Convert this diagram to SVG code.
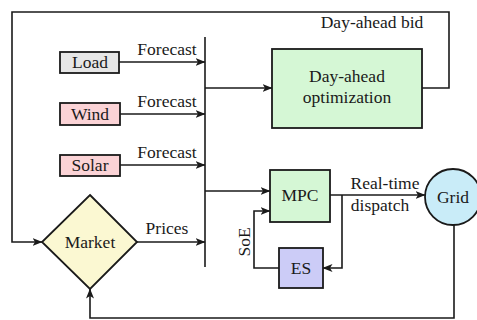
<svg xmlns="http://www.w3.org/2000/svg" width="477" height="320" viewBox="0 0 477 320">
<style>
text{font-family:"Liberation Serif","Times New Roman",serif;font-size:17.5px;fill:#1a1a1a;text-anchor:middle}
.box{stroke:#1a1a1a;stroke-width:1.8}
.c{fill:none;stroke:#1a1a1a;stroke-width:1.6}
.a{marker-end:url(#arr)}
</style>
<defs>
<marker id="arr" viewBox="0 0 10 8" refX="9.5" refY="4" markerWidth="10" markerHeight="8" markerUnits="userSpaceOnUse" orient="auto">
<path d="M0,0 L10,4 L0,8 L2.5,4 z" fill="#1a1a1a"/>
</marker>
</defs>
<rect width="477" height="320" fill="#fff"/>
<g id="connectors">
<path class="c" d="M422,88 H449 V12 H12 V242 H41"/>
<path class="c a" d="M41,242 H42"/>
<path class="c a" d="M119,62 H205"/>
<path class="c a" d="M120,114 H205"/>
<path class="c a" d="M120,165 H205"/>
<path class="c" d="M205,37 V267"/>
<path class="c a" d="M205,88 H272"/>
<path class="c a" d="M205,191 H270"/>
<path class="c a" d="M137,242 H205"/>
<path class="c a" d="M330,195 H425"/>
<path class="c a" d="M342,195 V268 H323"/>
<path class="c a" d="M279,268 H254 V211 H270"/>
<path class="c a" d="M454,225 V318 H90 V289"/>
<text x="167" y="55">Forecast</text>
<text x="167" y="107">Forecast</text>
<text x="167" y="158">Forecast</text>
<text x="167" y="234">Prices</text>
<text x="372" y="28">Day-ahead bid</text>
<text x="385" y="189">Real-time</text>
<text x="380" y="211">dispatch</text>
<text transform="translate(250,242) rotate(-90)">SoE</text>
</g>
<g id="load"><rect class="box" x="60" y="52" width="59" height="21" fill="#e6e6e6"/><text x="90" y="68">Load</text></g>
<g id="wind"><rect class="box" x="60" y="103" width="60" height="22" fill="#fbd3d6"/><text x="90" y="120">Wind</text></g>
<g id="solar"><rect class="box" x="60" y="155" width="60" height="21" fill="#fbd3d6"/><text x="90" y="171">Solar</text></g>
<g id="dayahead"><rect class="box" x="272" y="49" width="150" height="79" fill="#d5f7d5"/><text x="347" y="82">Day-ahead</text><text x="347" y="103">optimization</text></g>
<g id="mpc"><rect class="box" x="270" y="170" width="60" height="52" fill="#d5f7d5"/><text x="300" y="201">MPC</text></g>
<g id="es"><rect class="box" x="279" y="248" width="44" height="40" fill="#ccccf7"/><text x="301" y="274">ES</text></g>
<g id="grid"><circle class="box" cx="453" cy="197" r="28" fill="#c9ecf8"/><text x="453" y="203">Grid</text></g>
<g id="market"><path class="box" d="M90,195 L137,242 L90,289 L42,242 Z" fill="#fbf8d2"/><text x="90" y="248">Market</text></g>
</svg>
